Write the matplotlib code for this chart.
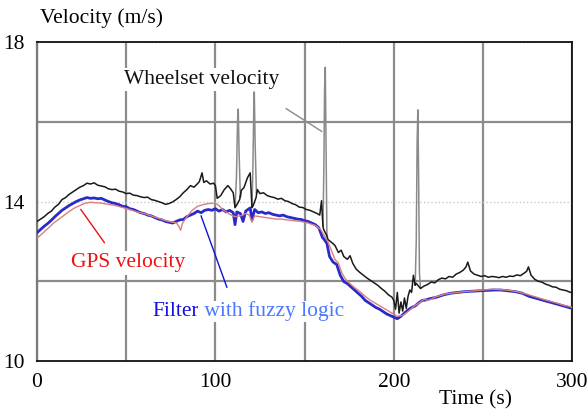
import numpy as np
import matplotlib
matplotlib.use('Agg')
import matplotlib.pyplot as plt
from matplotlib.ticker import MultipleLocator

# wheelset velocity (black), spikes kept apart and drawn in grey
wheel_t = [0, 2, 4, 6, 8, 10, 12, 14, 16, 18, 20, 22, 24, 26, 28, 30, 32, 34, 36, 38,
           40, 42, 44, 46, 48, 50, 52, 54, 56, 58, 60, 62, 64, 66, 68, 70, 72, 74, 76, 78,
           80, 82, 84, 86, 88, 90, 91, 92.5, 93.5, 95, 97, 99, 100, 101, 103, 105, 107, 108.5,
           110, 111, 111.8, 113.6, 114.5, 116, 118, 119.5, 120.5, 121.2, 122.8, 123.5, 125, 127, 129,
           131, 133, 135, 137, 139, 141, 143, 145, 147, 149, 151, 153, 155, 157, 158.5,
           159.5, 160.3, 160.7, 162.4, 163, 165, 167, 169, 170.5, 172, 174, 175.5, 177, 179, 181,
           183, 185, 187, 189, 191, 193, 195, 197, 199, 200, 201, 202, 203, 204, 205,
           206, 207, 208, 209, 210, 211, 212, 212.5, 214.4, 215, 217, 219, 221, 223, 225, 227,
           229, 231, 233, 235, 237, 239, 240.5, 241.5, 243, 245, 247, 249, 251, 253, 255,
           257, 259, 261, 263, 265, 267, 269, 271, 273, 274.5, 275.5, 277, 279, 281, 283,
           285, 287, 289, 291, 293, 295, 297, 299, 300]
wheel_v = [13.50, 13.56, 13.62, 13.70, 13.76, 13.86, 13.93, 14.05, 14.10, 14.18, 14.24, 14.30,
           14.36, 14.40, 14.46, 14.44, 14.47, 14.41, 14.39, 14.37, 14.32, 14.30, 14.31, 14.26,
           14.24, 14.20, 14.21, 14.16, 14.15, 14.12, 14.10, 14.11, 14.05, 14.03, 14.00, 13.97,
           13.93, 13.95, 13.99, 14.05, 14.12, 14.22, 14.30, 14.40, 14.36, 14.45, 14.50, 14.72,
           14.48, 14.52, 14.44, 14.46, 14.40, 14.08, 14.15, 14.30, 14.40, 14.32, 14.22, 13.85,
           13.90, 14.05, 14.28, 14.35, 14.60, 14.72, 13.85, 13.90, 14.10, 14.30, 14.20, 14.22,
           14.15, 14.12, 14.10, 14.06, 14.08, 14.02, 14.00, 13.95, 13.92, 13.86, 13.85, 13.80,
           13.78, 13.74, 13.70, 13.66, 14.02, 13.38, 13.30, 13.15, 13.05, 12.98, 12.90, 12.72,
           12.78, 12.62, 12.55, 12.64, 12.45, 12.30, 12.22, 12.15, 12.08, 12.02, 11.96, 11.90,
           11.82, 11.75, 11.66, 11.60, 11.52, 11.30, 11.72, 11.20, 11.48, 11.25, 11.58, 11.32,
           11.62, 11.78, 11.72, 12.15, 11.90, 11.95, 11.85, 11.82, 11.88, 11.92, 11.98, 11.96,
           12.04, 12.08, 12.06, 12.12, 12.10, 12.18, 12.22, 12.28, 12.36, 12.48, 12.26, 12.18,
           12.15, 12.12, 12.14, 12.10, 12.12, 12.11, 12.09, 12.12, 12.10, 12.13, 12.12, 12.16,
           12.14, 12.20, 12.25, 12.36, 12.15, 12.05, 12.00, 11.98, 11.93, 11.90, 11.86, 11.85,
           11.80, 11.78, 11.76, 11.72, 11.73]

spike1_t = [111.0, 111.8, 112.4, 112.8, 113.3, 114.0, 114.5]
spike1_v = [13.85, 14.60, 16.00, 16.32, 15.20, 14.10, 14.28]
spike2_t = [120.5, 121.0, 121.5, 121.8, 122.3, 123.0, 123.5]
spike2_v = [13.85, 14.80, 16.30, 16.75, 15.40, 14.20, 14.30]
spike3_t = [160.3, 160.8, 161.2, 161.6, 162.0, 162.5, 163.0]
spike3_v = [13.38, 14.80, 16.80, 17.37, 15.60, 13.20, 13.05]
spike4_t = [212.0, 212.6, 213.1, 213.5, 213.9, 214.4, 215.0]
spike4_v = [11.90, 13.00, 15.50, 16.30, 14.80, 12.20, 11.82]

# filter with fuzzy logic (blue)
filt_t = [0, 2, 4, 6, 8, 10, 12, 14, 16, 18, 20, 22, 24, 26, 28, 30, 32, 34, 36, 38,
          40, 42, 44, 46, 48, 50, 52, 54, 56, 58, 60, 62, 64, 66, 68, 70, 72, 74, 76, 78,
          80, 82, 84, 86, 88, 90, 92, 94, 96, 98, 100, 102, 104, 106, 108, 110, 111, 112,
          114, 115.5, 117, 119.5, 120.5, 122, 124, 126, 128, 130, 132, 134, 136, 138, 140,
          142, 144, 146, 148, 150, 152, 154, 156, 158, 160, 161, 162.5, 164, 166, 168, 170,
          172, 174, 176, 178, 180, 182, 184, 186, 188, 190, 192, 194, 196, 198, 200, 202,
          204, 206, 208, 210, 212, 214, 216, 218, 220, 222, 224, 226, 228, 230, 232, 234,
          236, 238, 240, 244, 248, 252, 256, 260, 264, 268, 272, 276, 280, 284, 288, 292,
          296, 300]
filt_v = [13.22, 13.30, 13.38, 13.45, 13.53, 13.62, 13.70, 13.78, 13.84, 13.90, 13.95, 14.00,
          14.04, 14.07, 14.10, 14.08, 14.09, 14.07, 14.08, 14.04, 14.00, 13.97, 13.95, 13.92,
          13.88, 13.87, 13.82, 13.80, 13.76, 13.72, 13.70, 13.66, 13.64, 13.60, 13.56, 13.54,
          13.50, 13.48, 13.46, 13.50, 13.54, 13.55, 13.62, 13.66, 13.70, 13.76, 13.72, 13.78,
          13.80, 13.78, 13.82, 13.76, 13.80, 13.74, 13.78, 13.72, 13.42, 13.74, 13.70, 13.50,
          13.76, 13.84, 13.54, 13.80, 13.72, 13.74, 13.70, 13.72, 13.68, 13.66, 13.64, 13.66,
          13.62, 13.60, 13.58, 13.56, 13.55, 13.52, 13.50, 13.46, 13.42, 13.34, 13.10, 13.05,
          12.95, 12.62, 12.48, 12.42, 12.15, 11.99, 11.94, 11.86, 11.78, 11.70, 11.62, 11.52,
          11.46, 11.40, 11.34, 11.30, 11.24, 11.18, 11.14, 11.10, 11.06, 11.12, 11.20, 11.28,
          11.34, 11.38, 11.46, 11.52, 11.53, 11.56, 11.58, 11.60, 11.63, 11.66, 11.68, 11.70,
          11.71, 11.72, 11.73, 11.74, 11.75, 11.76, 11.77, 11.78, 11.78, 11.76, 11.74, 11.70,
          11.62, 11.57, 11.52, 11.47, 11.42, 11.37, 11.32]

# GPS velocity (light red)
gps_t = [0, 3, 6, 9, 12, 15, 18, 21, 24, 27, 30, 33, 36, 40, 44, 48, 52, 56, 60, 64,
         68, 72, 76, 78, 79.5, 80.5, 81.5, 84, 87, 90, 93, 96, 100, 102, 104, 106, 108, 111,
         114, 117, 119, 120.5, 122, 125, 128, 131, 134, 137, 140, 144, 148, 152, 156, 159,
         161, 163, 165, 167, 169, 171, 173, 175, 178, 181, 184, 187, 190, 193, 196, 199,
         202, 205, 208, 211, 213, 215, 217, 219, 221, 223, 226, 229, 232, 236, 240, 245,
         250, 255, 260, 265, 270, 275, 280, 285, 290, 295, 300]
gps_v = [13.08, 13.20, 13.32, 13.45, 13.55, 13.65, 13.75, 13.84, 13.90, 13.96, 13.98, 13.97,
         13.96, 13.93, 13.90, 13.85, 13.80, 13.74, 13.70, 13.64, 13.58, 13.52, 13.48, 13.47,
         13.38, 13.28, 13.45, 13.62, 13.78, 13.88, 13.92, 13.95, 13.96, 13.90, 13.80, 13.74,
         13.68, 13.62, 13.64, 13.70, 13.66, 13.48, 13.64, 13.62, 13.60, 13.58, 13.56, 13.56,
         13.54, 13.52, 13.50, 13.46, 13.40, 13.30, 13.15, 13.00, 12.78, 12.55, 12.45, 12.20,
         12.05, 11.96, 11.84, 11.74, 11.62, 11.52, 11.44, 11.36, 11.28, 11.20, 11.12, 11.14,
         11.24, 11.36, 11.42, 11.48, 11.55, 11.52, 11.55, 11.60, 11.64, 11.68, 11.70, 11.72,
         11.74, 11.76, 11.78, 11.80, 11.79, 11.77, 11.73, 11.67, 11.60, 11.53, 11.47, 11.40,
         11.35]

x_ticks = [0, 100, 200, 300]
y_ticks = [10, 14, 18]

SERIF = ['Liberation Serif', 'DejaVu Serif']
FS = 15.5


def main():
    plt.rcParams['font.family'] = SERIF
    fig = plt.figure(figsize=(5.88, 4.13), dpi=100)
    ax = fig.add_axes([0.063, 0.126, 0.910, 0.772])

    ax.set_xlim(0, 300)
    ax.set_ylim(10, 18)
    ax.set_xticks(x_ticks)
    ax.set_yticks(y_ticks)
    ax.xaxis.set_minor_locator(MultipleLocator(50))
    ax.yaxis.set_minor_locator(MultipleLocator(2))
    ax.tick_params(which='both', length=0)
    ax.tick_params(axis='x', pad=9, labelsize=FS)
    ax.tick_params(axis='y', pad=9, labelsize=FS)

    ax.set_axisbelow(True)
    ax.xaxis.grid(True, which='both', color='#8c8c8c', lw=1.6)
    ax.yaxis.grid(True, which='minor', color='#8c8c8c', lw=1.6)
    ax.yaxis.grid(True, which='major', color='#c8c8c8', lw=1.0, ls=':')

    for side in ['top', 'bottom', 'right']:
        ax.spines[side].set_color('#111111')
        ax.spines[side].set_linewidth(1.3)
    ax.spines['left'].set_color('#7a7a7a')
    ax.spines['left'].set_linewidth(1.6)

    # grey spikes of the wheelset signal
    for st, sv in [(spike1_t, spike1_v), (spike2_t, spike2_v),
                   (spike3_t, spike3_v), (spike4_t, spike4_v)]:
        ax.plot(st, sv, color='#8a8a8a', lw=1.1, zorder=2)
    ax.plot(wheel_t, wheel_v, color='#1a1a1a', lw=1.1, zorder=3)
    ax.plot(gps_t, gps_v, color='#d88080', lw=1.0, zorder=4)
    ax.plot(filt_t, filt_v, color='#2a2ac8', lw=2.0, zorder=3.5)

    box = dict(fc='white', ec='none', pad=1.5)
    ax.text(92.5, 17.07, 'Wheelset velocity', fontsize=FS, ha='center', va='center',
            color='#111111', bbox=box, zorder=5)
    ax.annotate('', xy=(161, 15.72), xytext=(138.3, 16.37),
                arrowprops=dict(arrowstyle='-', color='#8a8a8a', lw=1.0), zorder=5)

    ax.text(51, 12.46, 'GPS velocity', fontsize=FS, ha='center', va='center',
            color='#ee1111', bbox=box, zorder=5)
    ax.annotate('', xy=(23.6, 13.86), xytext=(38.7, 12.91),
                arrowprops=dict(arrowstyle='-', color='#ee1111', lw=1.0), zorder=5)

    t1 = ax.text(64.5, 11.23, 'Filter', fontsize=FS, ha='left', va='center',
                 color='#1010e0', bbox=box, zorder=5)
    ax.annotate(' with fuzzy logic', xy=(1, 0), xycoords=t1, ha='left', va='bottom',
                fontsize=FS, color='#4a78ff', zorder=5,
                bbox=dict(fc='white', ec='none', pad=0.5))
    ax.annotate('', xy=(91.4, 13.71), xytext=(107, 11.78),
                arrowprops=dict(arrowstyle='-', color='#1010e0', lw=1.0), zorder=5)

    fig.text(0.068, 0.956, 'Velocity (m/s)', fontsize=FS, ha='left', va='center')
    fig.text(0.808, 0.031, 'Time (s)', fontsize=FS, ha='center', va='center')

    fig.savefig('out.png', dpi=100)
    print('Saved out.png')


if __name__ == '__main__':
    main()
